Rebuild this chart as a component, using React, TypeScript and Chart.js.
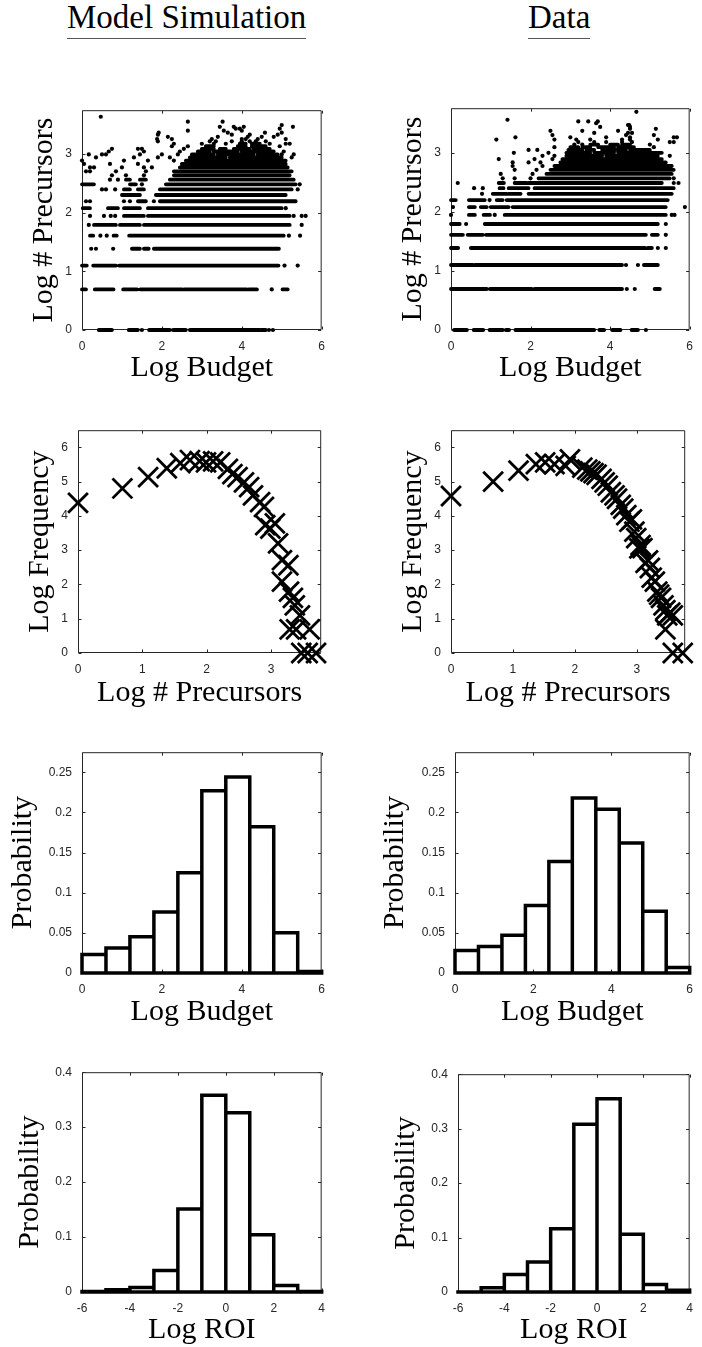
import React, { useEffect, useRef } from 'react';
import { Chart, registerables } from 'chart.js';
Chart.register(...registerables);

// ---------------- DATA ----------------
// Row 1: Log # Precursors vs Log Budget. Dense runs of points per precursor level: [y, xStart, xEnd]
const modelRuns: number[][] = [
  [0, 0.42, 0.75], [0, 1.17, 1.4], [0, 1.68, 2.2], [0, 2.28, 2.6], [0, 2.7, 4.45], [0, 4.48, 4.6],
  [0.693, 0, 0.1], [0.693, 0.32, 0.79], [0.693, 1.03, 1.38], [0.693, 1.46, 2.5], [0.693, 2.55, 4.12], [0.693, 4.17, 4.38], [0.693, 5.02, 5.15],
  [1.099, 0, 0.12], [1.099, 0.28, 0.85], [1.099, 0.93, 4.92],
  [1.386, 1.25, 1.45], [1.386, 1.55, 1.67], [1.386, 1.8, 4.93],
  [1.609, 0.2, 0.28], [1.609, 0.79, 0.87], [1.609, 1.18, 5.05],
  [1.792, 0.3, 0.85], [1.792, 0.95, 1.45], [1.792, 1.55, 5.2],
  [1.946, 1.05, 1.55], [1.946, 1.65, 5.2],
  [2.079, 0.02, 0.2], [2.079, 0.65, 0.9], [2.079, 1.05, 1.45], [2.079, 1.65, 5.0],
  [2.197, 1.4, 1.6], [2.197, 1.95, 5.35],
  [2.303, 1.0, 1.45], [2.303, 1.85, 5.1],
  [2.398, 1.05, 1.2], [2.398, 1.4, 1.55], [2.398, 1.95, 5.25],
  [2.485, 0, 0.3], [2.485, 1.2, 1.35], [2.485, 2.1, 5.35],
  [2.565, 1.1, 1.2], [2.565, 1.45, 1.6], [2.565, 2.2, 5.3],
  [2.639, 2.3, 5.2], [2.708, 2.3, 5.25], [2.773, 2.45, 5.15], [2.833, 2.5, 5.1],
  [2.89, 2.6, 5.1], [2.944, 2.7, 3.6], [2.944, 3.7, 5.0],
  [2.996, 2.75, 3.3], [2.996, 3.4, 4.3], [2.996, 4.4, 4.9],
  [3.045, 2.9, 3.2], [3.045, 3.3, 3.9], [3.045, 4.0, 4.8],
  [3.091, 3.0, 3.3], [3.091, 3.45, 3.6], [3.091, 3.8, 4.2], [3.091, 4.3, 4.7],
  [3.135, 3.1, 3.3], [3.135, 3.9, 4.1], [3.135, 4.25, 4.6],
  [3.178, 3.95, 4.1], [3.178, 4.25, 4.45],
];
// Isolated points: [x, y]
const modelDots: number[][] = [
  [1.5, 0], [4.68, 0], [4.78, 0], [4.75, 0.693], [5.07, 1.099], [5.4, 1.099],
  [0.23, 1.386], [0.35, 1.386], [0.78, 1.386],
  [0.46, 1.609], [0.62, 1.609], [5.18, 1.609], [5.46, 1.609],
  [0.17, 1.792], [5.5, 1.792],
  [0.2, 1.946], [0.55, 1.946], [0.72, 1.946], [0.83, 1.946], [5.3, 1.946], [5.5, 1.946], [5.6, 1.946],
  [5.1, 2.079],
  [0.1, 2.197], [0.2, 2.197], [1.05, 2.197], [1.2, 2.197], [1.8, 2.197],
  [0.5, 2.398], [0.6, 2.398], [0.83, 2.398], [5.4, 2.398],
  [1.5, 2.485], [5.45, 2.485],
  [0.7, 2.565], [0.9, 2.565],
  [0.75, 2.639], [1.1, 2.639], [1.55, 2.639],
  [0.1, 2.708], [0.2, 2.708], [0.85, 2.708], [1.6, 2.708],
  [0.2, 2.773], [0.3, 2.773], [1.0, 2.773], [1.55, 2.773], [1.75, 2.773],
  [0.05, 2.833], [0.7, 2.833], [1.4, 2.833],
  [0, 2.89], [1.05, 2.89], [1.65, 2.89], [2.3, 2.89],
  [0.35, 2.944], [1.3, 2.944], [1.9, 2.944], [2.2, 2.944], [5.25, 2.944],
  [0.17, 2.996], [0.5, 2.996], [0.6, 2.996], [1.45, 2.996], [2.0, 2.996], [2.4, 2.996], [5.0, 2.996], [5.3, 2.996],
  [0.67, 3.045], [1.55, 3.045], [2.45, 3.045], [5.05, 3.045],
  [0.75, 3.091], [1.4, 3.091], [1.5, 3.091], [2.55, 3.091],
  [2.25, 3.135], [2.65, 3.135], [4.95, 3.135],
  [2.3, 3.178], [3.0, 3.178], [3.3, 3.178], [3.6, 3.178], [4.7, 3.178], [5.1, 3.178], [5.2, 3.178],
  [1.9, 3.219], [3.2, 3.219], [3.35, 3.219], [3.75, 3.219], [4.0, 3.219], [4.2, 3.219], [4.35, 3.219], [4.6, 3.219],
  [1.88, 3.258], [2.25, 3.258], [3.25, 3.258], [4.0, 3.258], [4.1, 3.258], [4.4, 3.258], [5.1, 3.258],
  [2.15, 3.296], [3.4, 3.296], [4.15, 3.296], [4.5, 3.296], [4.8, 3.296],
  [1.9, 3.332], [3.75, 3.332], [4.2, 3.332], [4.9, 3.332],
  [1.92, 3.367], [3.65, 3.367], [4.58, 3.367], [5.0, 3.367],
  [2.65, 3.401], [3.55, 3.401], [4.0, 3.401],
  [3.85, 3.434], [3.95, 3.434], [4.95, 3.434],
  [3.45, 3.466], [3.8, 3.466], [4.05, 3.466], [5.28, 3.466],
  [5.0, 3.497], [2.65, 3.555], [3.52, 3.555], [0.47, 3.638],
];

const dataRuns: number[][] = [
  [0, 0.08, 0.4], [0, 0.57, 0.81], [0, 0.97, 1.3], [0, 1.38, 1.46], [0, 1.62, 1.78], [0, 1.82, 3.6], [0, 3.73, 3.85], [0, 4.05, 4.26], [0, 4.54, 4.7],
  [0.693, 0, 0.9], [0.693, 0.98, 2.03], [0.693, 2.1, 4.3], [0.693, 5.12, 5.25],
  [1.099, 0, 0.55], [1.099, 0.6, 4.3], [1.099, 4.85, 5.2],
  [1.386, 0, 0.18], [1.386, 0.5, 4.88], [1.386, 4.95, 5.05],
  [1.609, 0, 0.3], [1.609, 0.42, 0.8], [1.609, 0.88, 4.9], [1.609, 5.05, 5.2],
  [1.792, 0, 0.22], [1.792, 0.85, 5.2],
  [1.946, 0.45, 0.6], [1.946, 0.82, 0.98], [1.946, 1.35, 5.4],
  [2.079, 0.45, 0.6], [2.079, 0.75, 0.9], [2.079, 1.0, 1.45], [2.079, 1.55, 5.4],
  [2.197, 0, 0.12], [2.197, 0.45, 0.85], [2.197, 1.15, 1.3], [2.197, 1.4, 5.45],
  [2.303, 1.05, 1.4], [2.303, 1.45, 1.75], [2.303, 1.95, 5.55],
  [2.398, 1.22, 1.32], [2.398, 1.45, 1.95], [2.398, 2.1, 5.6],
  [2.485, 1.2, 1.33], [2.485, 1.6, 1.9], [2.485, 1.95, 5.3],
  [2.565, 2.2, 5.5], [2.639, 2.4, 5.55], [2.708, 2.5, 5.6], [2.773, 2.6, 5.55],
  [2.833, 2.75, 5.4], [2.89, 2.8, 5.3], [2.944, 2.9, 3.8], [2.944, 3.9, 5.2],
  [2.996, 2.9, 3.5], [2.996, 3.6, 4.1], [2.996, 4.2, 5.3],
  [3.045, 2.95, 3.3], [3.045, 3.4, 3.6], [3.045, 3.8, 4.4], [3.045, 4.5, 5.0],
  [3.091, 3.0, 3.2], [3.091, 3.3, 3.5], [3.091, 3.7, 4.1], [3.091, 4.2, 4.6],
  [3.135, 3.5, 3.7], [3.135, 4.0, 4.2], [3.135, 4.3, 4.5],
];
const dataDots: number[][] = [
  [4.9, 0], [4.42, 0.693], [4.62, 0.693], [4.4, 1.099], [4.7, 1.099],
  [5.2, 1.386], [5.4, 1.386], [5.4, 1.609], [0.38, 1.792], [5.4, 1.792],
  [0, 1.946], [1.1, 1.946], [5.55, 1.946], [5.62, 1.946],
  [0.05, 2.079], [5.88, 2.079], [0.97, 2.197], [0.78, 2.303],
  [0.58, 2.398], [0.8, 2.398],
  [0.17, 2.485], [5.6, 2.485], [5.72, 2.485],
  [1.3, 2.565], [1.6, 2.565], [2.0, 2.565], [5.6, 2.565],
  [1.25, 2.639], [2.05, 2.639], [1.6, 2.708], [2.15, 2.708],
  [1.55, 2.773], [2.3, 2.773], [1.55, 2.833], [1.95, 2.833], [2.25, 2.833],
  [1.2, 2.89], [2.1, 2.89], [2.55, 2.89], [2.3, 2.944], [2.6, 2.944], [5.5, 2.944],
  [1.58, 2.996], [2.45, 2.996], [1.95, 3.045], [2.17, 3.045],
  [2.6, 3.091], [5.1, 3.091], [3.1, 3.135], [3.3, 3.135], [5.0, 3.135],
  [3.2, 3.178], [3.6, 3.178], [3.9, 3.178], [4.3, 3.178], [4.55, 3.178], [5.5, 3.178], [5.6, 3.178],
  [1.14, 3.219], [2.6, 3.219], [3.15, 3.219], [3.5, 3.219], [4.3, 3.219], [4.5, 3.219], [5.2, 3.219],
  [1.62, 3.258], [3.0, 3.258], [3.9, 3.258], [4.5, 3.258], [5.6, 3.258], [5.68, 3.258],
  [2.55, 3.296], [4.4, 3.296], [5.1, 3.296],
  [3.6, 3.332], [4.45, 3.332], [4.55, 3.332],
  [2.5, 3.367], [3.3, 3.367], [4.2, 3.367],
  [4.5, 3.401], [5.15, 3.401], [3.75, 3.434], [4.5, 3.434],
  [4.45, 3.466], [4.48, 3.466], [3.65, 3.497],
  [3.2, 3.526], [3.45, 3.526], [3.69, 3.526], [1.42, 3.555], [4.66, 3.689],
];

// Row 2: Log Frequency vs Log # Precursors
const modelFreqX = [0, 0.69, 1.09, 1.38, 1.59, 1.74, 1.89, 1.99, 2.1, 2.21, 2.33, 2.4, 2.48, 2.58, 2.66, 2.72, 2.83, 2.89, 2.91, 2.99, 3.06, 3.11, 3.17, 3.27, 3.17, 3.28, 3.34, 3.37, 3.45, 3.29, 3.39, 3.6, 3.47, 3.57, 3.7];
const modelFreqY = [4.38, 4.8, 5.13, 5.39, 5.54, 5.63, 5.6, 5.56, 5.59, 5.56, 5.37, 5.22, 5.13, 4.98, 4.84, 4.6, 4.4, 4.26, 3.73, 3.63, 3.78, 3.2, 2.71, 2.56, 2.08, 1.79, 1.61, 1.39, 1.1, 0.69, 0.69, 0.69, 0, 0, 0];
const dataFreqX = [0, 0.68, 1.09, 1.37, 1.52, 1.67, 1.85, 1.92, 2.12, 2.2, 2.25, 2.3, 2.35, 2.43, 2.48, 2.53, 2.58, 2.64, 2.68, 2.74, 2.78, 2.83, 2.88, 2.92, 2.96, 2.99, 3.04, 3.06, 3.09, 3.14, 3.18, 3.21, 3.24, 3.29, 3.33, 3.36, 3.39, 3.43, 3.46, 3.49, 3.54, 3.58, 3.46, 3.58, 3.74];
const dataFreqY = [4.58, 5.0, 5.32, 5.51, 5.56, 5.51, 5.46, 5.65, 5.41, 5.35, 5.3, 5.25, 5.2, 5.08, 4.98, 4.88, 4.69, 4.6, 4.5, 4.32, 4.21, 4.02, 3.83, 3.9, 3.54, 3.35, 3.05, 3.15, 3.06, 2.63, 2.7, 2.48, 2.2, 2.08, 1.79, 1.7, 1.61, 1.39, 1.25, 1.1, 1.18, 1.1, 0.69, 0, 0];

// Row 3: Probability vs Log Budget
const budgetBinEdges = [0, 0.6, 1.2, 1.8, 2.4, 3.0, 3.6, 4.2, 4.8, 5.4, 6.0];
const modelBudgetProb = [0.023, 0.031, 0.045, 0.076, 0.125, 0.227, 0.244, 0.182, 0.05, 0.002];
const dataBudgetProb = [0.028, 0.033, 0.047, 0.084, 0.139, 0.218, 0.204, 0.162, 0.077, 0.007];

// Row 4: Probability vs Log ROI
const roiBinEdges = [-6, -5, -4, -3, -2, -1, 0, 1, 2, 3, 4];
const modelRoiProb = [0.001, 0.004, 0.008, 0.039, 0.151, 0.358, 0.326, 0.104, 0.012, 0.001];
const dataRoiProb = [0, 0.008, 0.032, 0.055, 0.116, 0.308, 0.355, 0.106, 0.014, 0.003];

const columnTitles = ['Model Simulation', 'Data'];

// ---------------- STYLE / LAYOUT ----------------
const AXIS_COLOR = '#262626';
const tickFont = { family: "'Liberation Sans', Arial, Helvetica, sans-serif", size: 12 };
const labelFont = { family: "'Liberation Serif', 'Times New Roman', serif", size: 30, lineHeight: 1 };

type Box = { l: number; t: number; r: number; b: number; yTitleX: number; xTitleY: number };
type Geo = { cl: number; ct: number; W: number; H: number; yw: number; xh: number; pr: number };

function geometry(box: Box): Geo {
  const cl = box.yTitleX - 20;
  const ct = box.t - 14;
  const cr = Math.min(box.r + 12, 702);
  const cb = box.xTitleY + 17;
  return { cl, ct, W: cr - cl, H: cb - ct, yw: box.l - cl, xh: cb - box.b, pr: cr - box.r };
}

const fmt = (v: any) => String(Math.round(Number(v) * 1000) / 1000);

const boxPlugin = {
  id: 'matlabBox',
  beforeDatasetsDraw(chart: any) {
    const { ctx, chartArea: a } = chart;
    const xs = chart.scales.x;
    const ys = chart.scales.y;
    ctx.save();
    ctx.strokeStyle = AXIS_COLOR;
    ctx.lineWidth = 1;
    const L = a.left + 0.5, R = a.right - 0.5, T = a.top + 0.5, B = a.bottom - 0.5;
    ctx.beginPath();
    ctx.rect(L, T, R - L, B - T);
    const len = 3;
    for (const tk of xs.ticks) {
      const p = Math.round(xs.getPixelForValue(tk.value)) + 0.5;
      ctx.moveTo(p, B); ctx.lineTo(p, B - len);
      ctx.moveTo(p, T); ctx.lineTo(p, T + len);
    }
    for (const tk of ys.ticks) {
      const p = Math.round(ys.getPixelForValue(tk.value)) + 0.5;
      ctx.moveTo(L, p); ctx.lineTo(L + len, p);
      ctx.moveTo(R, p); ctx.lineTo(R - len, p);
    }
    ctx.stroke();
    ctx.restore();
  },
};

type Axis = { min: number; max: number; step: number; title: string };

function makeOptions(geo: Geo, x: Axis, y: Axis) {
  return {
    responsive: false,
    maintainAspectRatio: false,
    animation: false,
    devicePixelRatio: 1,
    events: [],
    layout: { padding: { left: 0, top: 14, right: geo.pr, bottom: 0 } },
    plugins: { legend: { display: false }, tooltip: { enabled: false }, title: { display: false } },
    scales: {
      x: {
        type: 'linear', position: 'bottom', min: x.min, max: x.max, offset: false,
        grid: { display: false, drawTicks: false, offset: false },
        border: { display: false },
        ticks: { stepSize: x.step, includeBounds: false, autoSkip: false, maxRotation: 0, padding: 9, color: AXIS_COLOR, font: tickFont, callback: fmt },
        title: { display: true, text: x.title, color: '#000', font: labelFont, padding: { top: 0, bottom: 2 } },
        afterFit: (s: any) => { s.height = geo.xh; },
      },
      y: {
        type: 'linear', position: 'left', min: y.min, max: y.max,
        grid: { display: false, drawTicks: false },
        border: { display: false },
        ticks: { stepSize: y.step, includeBounds: false, autoSkip: false, padding: 10, color: AXIS_COLOR, font: tickFont, callback: fmt },
        title: { display: true, text: y.title, color: '#000', font: labelFont, padding: { top: 5, bottom: 0 } },
        afterFit: (s: any) => { s.width = geo.yw; },
      },
    },
  };
}

function scatterConfig(geo: Geo, runs: number[][], dots: number[][]) {
  const runData: any[] = [];
  for (const [y, x0, x1] of runs) {
    runData.push({ x: x0, y }, { x: x1, y }, { x: x1, y: null });
  }
  return {
    type: 'scatter',
    data: {
      datasets: [
        { data: runData, showLine: true, spanGaps: false, borderColor: '#000', borderWidth: 3.8, borderCapStyle: 'round', pointRadius: 0, clip: false },
        { data: dots.map(([x, y]) => ({ x, y })), pointRadius: 2.1, pointBorderWidth: 0, borderWidth: 0, backgroundColor: '#000', pointBackgroundColor: '#000', clip: false },
      ],
    },
    options: makeOptions(geo, { min: 0, max: 6, step: 2, title: 'Log Budget' }, { min: 0, max: 3.75, step: 1, title: 'Log # Precursors' }),
    plugins: [boxPlugin],
  };
}

function crossConfig(geo: Geo, xs: number[], ys: number[]) {
  return {
    type: 'scatter',
    data: {
      datasets: [
        { data: xs.map((x, i) => ({ x, y: ys[i] })), pointStyle: 'crossRot', pointRadius: 14, pointBorderWidth: 2.8, borderWidth: 2.8, pointBorderColor: '#000', borderColor: '#000', clip: false },
      ],
    },
    options: makeOptions(geo, { min: 0, max: 3.78, step: 1, title: 'Log # Precursors' }, { min: 0, max: 6.5, step: 1, title: 'Log Frequency' }),
    plugins: [boxPlugin],
  };
}

function histConfig(geo: Geo, edges: number[], probs: number[], x: Axis, y: Axis) {
  const outline: any[] = [];
  probs.forEach((p, i) => {
    const a = edges[i], b = edges[i + 1];
    outline.push({ x: a, y: 0 }, { x: a, y: p }, { x: b, y: p }, { x: b, y: 0 }, { x: a, y: 0 }, { x: a, y: null });
  });
  return {
    type: 'scatter',
    data: {
      datasets: [
        { data: outline, showLine: true, spanGaps: false, borderColor: '#000', borderWidth: 3.5, borderJoinStyle: 'miter', borderCapStyle: 'square', pointRadius: 0, clip: false },
      ],
    },
    options: makeOptions(geo, x, y),
    plugins: [boxPlugin],
  };
}

function Panel({ box, build }: { box: Box; build: (g: Geo) => any }) {
  const ref = useRef<HTMLCanvasElement | null>(null);
  const geo = geometry(box);
  useEffect(() => {
    const chart = new Chart(ref.current as HTMLCanvasElement, build(geo));
    return () => chart.destroy();
  }, []);
  return (
    <canvas
      ref={ref}
      width={geo.W}
      height={geo.H}
      style={{ position: 'absolute', left: geo.cl, top: geo.ct, width: geo.W, height: geo.H }}
    />
  );
}

const BOX: Record<string, Box> = {
  p1: { l: 82, t: 107, r: 322, b: 330, yTitleX: 44, xTitleY: 368 },
  p2: { l: 451, t: 105, r: 698, b: 330, yTitleX: 413, xTitleY: 368 },
  p3: { l: 78, t: 427, r: 326, b: 653, yTitleX: 40, xTitleY: 693 },
  p4: { l: 451, t: 427, r: 699, b: 653, yTitleX: 413, xTitleY: 693 },
  p5: { l: 82, t: 749, r: 322, b: 973, yTitleX: 23, xTitleY: 1012 },
  p6: { l: 455, t: 749, r: 695, b: 973, yTitleX: 395, xTitleY: 1012 },
  p7: { l: 82, t: 1069, r: 322, b: 1292, yTitleX: 30, xTitleY: 1330 },
  p8: { l: 458, t: 1071, r: 690, b: 1292, yTitleX: 406, xTitleY: 1330 },
};

const budgetAxis: Axis = { min: 0, max: 6, step: 2, title: 'Log Budget' };
const budgetProbAxis: Axis = { min: 0, max: 0.275, step: 0.05, title: 'Probability' };
const roiAxis: Axis = { min: -6, max: 4, step: 2, title: 'Log ROI' };
const roiProbAxis: Axis = { min: 0, max: 0.4, step: 0.1, title: 'Probability' };

const titleStyle = (left: number): React.CSSProperties => ({
  position: 'absolute',
  left,
  top: 1,
  fontFamily: "'Liberation Serif', 'Times New Roman', serif",
  fontSize: 33,
  lineHeight: '33px',
  paddingBottom: 4,
  borderBottom: '1.5px solid #555',
  whiteSpace: 'nowrap',
  color: '#000',
});

export default function App() {
  return (
    <div style={{ position: 'absolute', left: 0, top: 0, width: 702, height: 1347, overflow: 'hidden', background: '#fff' }}>
      <div style={titleStyle(67)}>{columnTitles[0]}</div>
      <div style={titleStyle(528)}>{columnTitles[1]}</div>
      <Panel box={BOX.p1} build={(g) => scatterConfig(g, modelRuns, modelDots)} />
      <Panel box={BOX.p2} build={(g) => scatterConfig(g, dataRuns, dataDots)} />
      <Panel box={BOX.p3} build={(g) => crossConfig(g, modelFreqX, modelFreqY)} />
      <Panel box={BOX.p4} build={(g) => crossConfig(g, dataFreqX, dataFreqY)} />
      <Panel box={BOX.p5} build={(g) => histConfig(g, budgetBinEdges, modelBudgetProb, budgetAxis, budgetProbAxis)} />
      <Panel box={BOX.p6} build={(g) => histConfig(g, budgetBinEdges, dataBudgetProb, budgetAxis, budgetProbAxis)} />
      <Panel box={BOX.p7} build={(g) => histConfig(g, roiBinEdges, modelRoiProb, roiAxis, roiProbAxis)} />
      <Panel box={BOX.p8} build={(g) => histConfig(g, roiBinEdges, dataRoiProb, roiAxis, roiProbAxis)} />
    </div>
  );
}
